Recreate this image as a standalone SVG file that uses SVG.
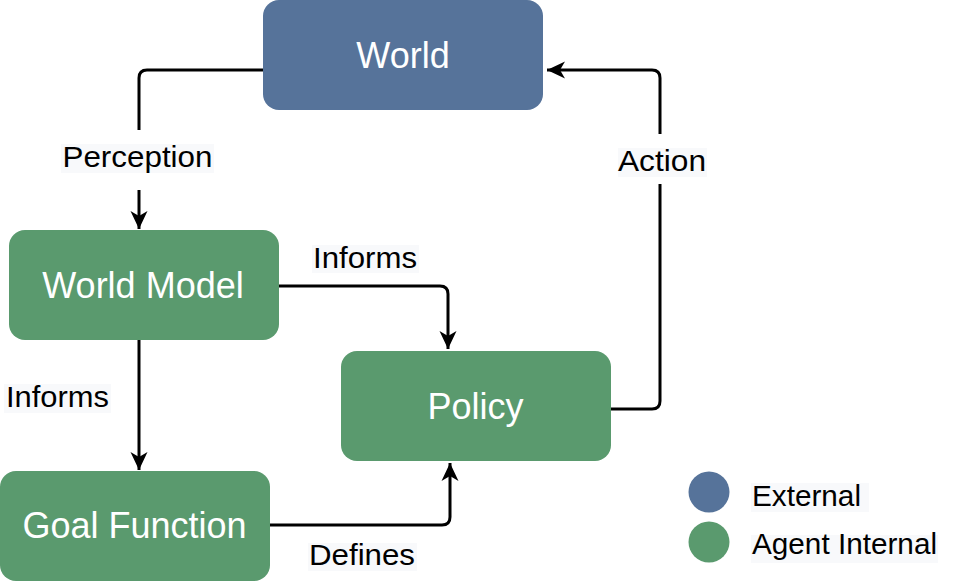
<svg xmlns="http://www.w3.org/2000/svg" width="960" height="587" viewBox="0 0 960 587">
  <style>
    .node-ext { fill: #56739a; }
    .node-int { fill: #5a9a6e; }
    .node-text { font-family: "Liberation Sans", Arial, sans-serif; font-size: 36px; fill: #ffffff; text-anchor: middle; }
    .edge { fill: none; stroke: #000000; stroke-width: 3; stroke-linejoin: round; }
    .label-bg { fill: #f8f9fb; }
    .label { font-family: "Liberation Sans", Arial, sans-serif; font-size: 30px; fill: #000000; }
  </style>
  <defs>
    <marker id="arrow" viewBox="0 0 20 20" refX="19" refY="10" markerWidth="20" markerHeight="20" markerUnits="userSpaceOnUse" orient="auto">
      <path d="M1,1.5 L19,10 L1,18.5 L6,10 Z" fill="#000000"/>
    </marker>
  </defs>

  <rect width="960" height="587" fill="#ffffff"/>

  <!-- connectors -->
  <g id="connectors">
    <!-- World -> World Model (Perception) -->
    <path class="edge" d="M263,70 H147 Q139,70 139,78 V130"/>
    <path class="edge" d="M139,190 V229" marker-end="url(#arrow)"/>
    <!-- World Model -> Policy (Informs) -->
    <path class="edge" d="M279,286 H440 Q448,286 448,294 V349" marker-end="url(#arrow)"/>
    <!-- World Model -> Goal Function (Informs) -->
    <path class="edge" d="M139,340 V470" marker-end="url(#arrow)"/>
    <!-- Goal Function -> Policy (Defines) -->
    <path class="edge" d="M270,525 H442 Q450,525 450,517 V463" marker-end="url(#arrow)"/>
    <!-- Policy -> World (Action) -->
    <path class="edge" d="M611,409 H652 Q660,409 660,401 V184"/>
    <path class="edge" d="M660,134 V78 Q660,70 652,70 H547" marker-end="url(#arrow)"/>

    <rect class="label-bg" x="61" y="144" width="153" height="29"/>
    <text class="label" x="137.5" y="167" text-anchor="middle" textLength="150" lengthAdjust="spacingAndGlyphs">Perception</text>
    <rect class="label-bg" x="312" y="245" width="107" height="28"/>
    <text class="label" x="365" y="268" text-anchor="middle" textLength="104" lengthAdjust="spacingAndGlyphs">Informs</text>
    <rect class="label-bg" x="4" y="384" width="107" height="29"/>
    <text class="label" x="57.5" y="407" text-anchor="middle" textLength="103" lengthAdjust="spacingAndGlyphs">Informs</text>
    <rect class="label-bg" x="308" y="543" width="109" height="28"/>
    <text class="label" x="362" y="565" text-anchor="middle" textLength="106" lengthAdjust="spacingAndGlyphs">Defines</text>
    <rect class="label-bg" x="618" y="148" width="89" height="29"/>
    <text class="label" x="662" y="171" text-anchor="middle" textLength="88" lengthAdjust="spacingAndGlyphs">Action</text>
  </g>

  <!-- nodes -->
  <g id="world">
    <rect class="node-ext" x="263" y="0" width="280" height="110" rx="16"/>
    <text class="node-text" x="403" y="68">World</text>
  </g>
  <g id="world-model">
    <rect class="node-int" x="9" y="230" width="270" height="110" rx="16"/>
    <text class="node-text" x="143" y="298">World Model</text>
  </g>
  <g id="goal-function">
    <rect class="node-int" x="0" y="471" width="270" height="110" rx="16"/>
    <text class="node-text" x="134.5" y="538">Goal Function</text>
  </g>
  <g id="policy">
    <rect class="node-int" x="341" y="351" width="270" height="110" rx="16"/>
    <text class="node-text" x="475.5" y="419">Policy</text>
  </g>

  <!-- legend -->
  <g id="legend">
    <circle class="node-ext" cx="709" cy="492" r="20.5"/>
    <circle class="node-int" cx="709" cy="542" r="20.5"/>
    <rect class="label-bg" x="751" y="483" width="118" height="29"/>
    <text class="label" x="752" y="506" textLength="109" lengthAdjust="spacingAndGlyphs">External</text>
    <rect class="label-bg" x="751" y="535" width="187" height="28"/>
    <text class="label" x="752" y="554" textLength="185" lengthAdjust="spacingAndGlyphs">Agent Internal</text>
  </g>
</svg>
